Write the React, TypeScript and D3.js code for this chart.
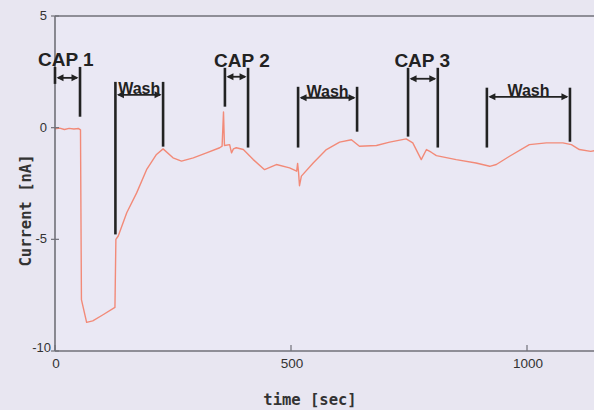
import React from "react";
import * as d3 from "d3";

// ---- data ----
const times: number[] = [0, 10, 20, 30, 40, 50, 54, 56, 67, 80, 100, 127, 129, 134, 152, 173, 194, 215, 229, 250, 268, 293, 321, 349, 354, 357, 359, 370, 374, 378, 384, 399, 420, 444, 469, 497, 512, 514, 516, 518, 522, 547, 575, 603, 628, 645, 681, 709, 744, 758, 776, 787, 797, 808, 850, 892, 921, 935, 963, 1005, 1041, 1076, 1094, 1111, 1135, 1150];
const current: number[] = [-0.05, -0.02, -0.08, -0.03, -0.06, -0.04, -0.1, -7.7, -8.72, -8.65, -8.4, -8.05, -5.0, -4.85, -3.81, -2.92, -1.88, -1.2, -0.95, -1.35, -1.5, -1.35, -1.13, -0.9, -0.83, 0.7, -0.8, -0.76, -1.13, -0.95, -0.9, -0.98, -1.43, -1.88, -1.65, -1.8, -1.95, -1.6, -2.0, -2.6, -2.17, -1.58, -0.98, -0.65, -0.54, -0.83, -0.8, -0.65, -0.5, -0.68, -1.43, -0.98, -1.1, -1.25, -1.43, -1.58, -1.73, -1.65, -1.28, -0.76, -0.68, -0.68, -0.76, -0.98, -1.06, -1.0];

const xTicks: number[] = [0, 500, 1000];
const yTicks: number[] = [5, 0, -5, -10];

// interval annotations
const labels: string[] = ["CAP 1", "Wash", "CAP 2", "Wash", "CAP 3", "Wash"];
const startT: number[] = [0, 128, 360, 515, 748, 915];
const endT: number[] = [53, 229, 409, 640, 811, 1091];
const barTop: number[] = [2.72, 2.05, 2.68, 1.83, 2.68, 1.79];
const arrowY: number[] = [2.23, 1.47, 2.28, 1.34, 2.19, 1.38];
const startBottom: number[] = [1.96, -4.78, 0.94, -0.89, -0.4, -0.89];
const endBottom: number[] = [0.49, -0.85, -0.89, -0.18, -0.89, -0.63];
const capLabelT: number[] = [23, 0, 396, 0, 778, 0];

export default function App() {
  const W = 594, H = 410;
  const x = d3.scaleLinear().domain([0, 1000]).range([55, 527]);
  const y = d3.scaleLinear().domain([-10, 5]).range([351, 16]);
  const line = d3.line<number>().x((_, i) => x(times[i])).y((d) => y(d));
  const path = line(current) || "";
  const ink = "#222";

  const arrowHead = (px: number, py: number, dir: number, key: string) => (
    <path key={key} d={`M${px},${py} L${px - dir * 7},${py - 3.5} L${px - dir * 7},${py + 3.5} Z`} fill={ink} />
  );

  return (
    <svg width={W} height={H} style={{ position: "absolute", left: 0, top: 0, background: "#e8e6f1" }}>
      <rect x={0} y={0} width={W} height={H} fill="#e8e6f1" />
      <rect x={x(0)} y={y(5)} width={W - x(0)} height={y(-10) - y(5)} fill="#eae8f4" />
      {/* curve */}
      <path d={path} fill="none" stroke="#f28a78" strokeWidth={1.4} strokeLinejoin="round" />
      {/* frame */}
      <line x1={x(0)} x2={W} y1={y(5)} y2={y(5)} stroke="#707078" strokeWidth={1.6} />
      <line x1={x(0)} x2={W} y1={y(-10)} y2={y(-10)} stroke="#707078" strokeWidth={1.6} />
      <line x1={x(0)} x2={x(0)} y1={y(5)} y2={y(-10)} stroke="#707078" strokeWidth={1.6} />
      {yTicks.map((v) => (
        <g key={"y" + v}>
          <line x1={x(0) - 4} x2={x(0) + 4} y1={y(v)} y2={y(v)} stroke="#707078" strokeWidth={1.2} />
          <text x={v === -10 ? x(0) - 4 : x(0) - 8} y={y(v) + (v === -10 ? 1 : 4)} textAnchor="end" fontFamily="Liberation Sans, Arial, sans-serif" fontSize={13} fill="#333">{v}</text>
        </g>
      ))}
      {xTicks.map((v) => (
        <g key={"x" + v}>
          <line x1={x(v)} x2={x(v)} y1={y(-10)} y2={y(-10) - 6} stroke="#707078" strokeWidth={1.2} />
          <text x={x(v) + 1} y={y(-10) + 17} textAnchor="middle" fontFamily="Liberation Sans, Arial, sans-serif" fontSize={13.5} fill="#333">{v}</text>
        </g>
      ))}
      <text x={310} y={405} textAnchor="middle" fontFamily="DejaVu Sans Mono, monospace" fontWeight="bold" fontSize={15.5} fill="#333">time [sec]</text>
      <text transform={`translate(31,${(y(5) + y(-10)) / 2 + 27}) rotate(-90)`} textAnchor="middle" fontFamily="DejaVu Sans Mono, monospace" fontWeight="bold" fontSize={15.5} fill="#333">Current [nA]</text>
      {/* annotations */}
      {labels.map((lab, i) => {
        const x1 = x(startT[i]), x2 = x(endT[i]);
        const ay = y(arrowY[i]);
        const isCap = lab !== "Wash";
        return (
          <g key={"a" + i}>
            <line x1={x1} x2={x1} y1={y(barTop[i])} y2={y(startBottom[i])} stroke={ink} strokeWidth={2.6} />
            <line x1={x2} x2={x2} y1={y(barTop[i])} y2={y(endBottom[i])} stroke={ink} strokeWidth={2.6} />
            <line x1={x1 + 3} x2={x2 - 3} y1={ay} y2={ay} stroke={ink} strokeWidth={1.8} />
            {arrowHead(x1 + 1.5, ay, -1, "l")}
            {arrowHead(x2 - 1.5, ay, 1, "r")}
            {isCap ? (
              <text x={x(capLabelT[i])} y={y(barTop[i]) - 1} textAnchor="middle" fontFamily="Liberation Sans, Arial, sans-serif" fontWeight="bold" fontSize={19} fill={ink}>{lab}</text>
            ) : (
              <text x={(x1 + x2) / 2} y={ay - 1} textAnchor="middle" fontFamily="Liberation Sans, Arial, sans-serif" fontWeight="bold" fontSize={16} fill={ink}>{lab}</text>
            )}
          </g>
        );
      })}
    </svg>
  );
}
